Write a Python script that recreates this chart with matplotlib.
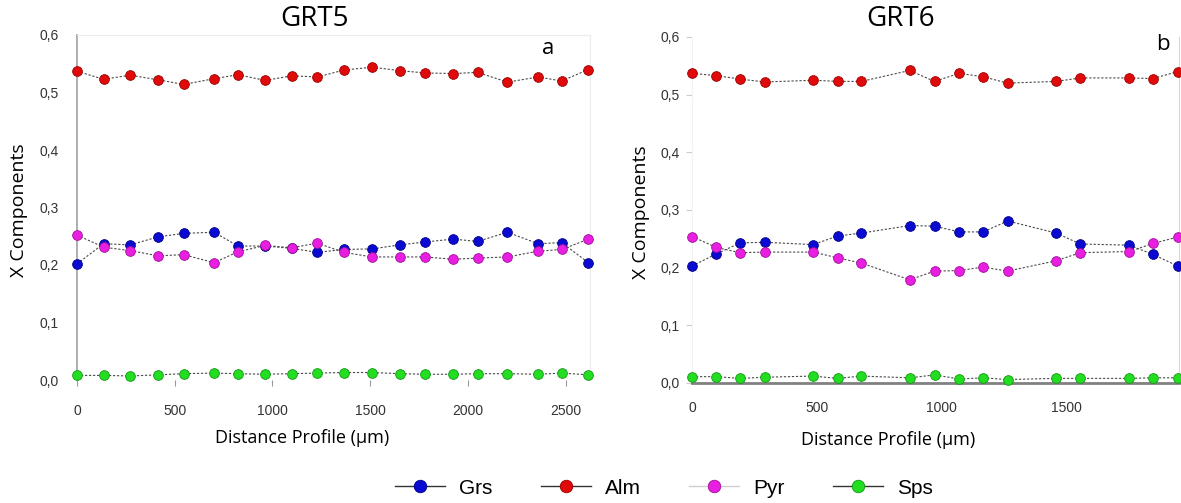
import matplotlib
matplotlib.use("Agg")
import matplotlib.pyplot as plt
from matplotlib.lines import Line2D
from matplotlib.ticker import FuncFormatter

# ---- GRT5 profile ----
grt5_x = [0, 136, 272, 416, 546, 701, 824, 962, 1098, 1230,
          1365, 1510, 1652, 1780, 1924, 2051, 2202, 2360, 2480, 2617]
grt5_grs = [0.202, 0.237, 0.235, 0.249, 0.255, 0.257, 0.233, 0.233, 0.229, 0.222,
            0.227, 0.228, 0.235, 0.240, 0.245, 0.241, 0.257, 0.237, 0.239, 0.204]
grt5_alm = [0.537, 0.523, 0.530, 0.522, 0.514, 0.524, 0.531, 0.521, 0.529, 0.527,
            0.539, 0.544, 0.538, 0.534, 0.533, 0.535, 0.518, 0.527, 0.520, 0.540]
grt5_pyr = [0.252, 0.231, 0.225, 0.216, 0.218, 0.204, 0.223, 0.234, 0.230, 0.238,
            0.222, 0.214, 0.214, 0.214, 0.210, 0.212, 0.214, 0.224, 0.227, 0.245]
grt5_sps = [0.008, 0.008, 0.007, 0.009, 0.011, 0.012, 0.011, 0.010, 0.011, 0.012,
            0.013, 0.013, 0.011, 0.010, 0.010, 0.011, 0.011, 0.010, 0.012, 0.009]

# ---- GRT6 profile ----
grt6_x = [0, 98, 193, 292, 485, 584, 678, 872, 971, 1070,
          1166, 1264, 1458, 1555, 1751, 1846, 1944]
grt6_grs = [0.203, 0.224, 0.243, 0.244, 0.240, 0.255, 0.260, 0.273, 0.272, 0.262,
            0.262, 0.281, 0.260, 0.241, 0.239, 0.223, 0.203]
grt6_alm = [0.537, 0.533, 0.527, 0.522, 0.525, 0.523, 0.523, 0.542, 0.523, 0.537,
            0.531, 0.520, 0.523, 0.529, 0.529, 0.528, 0.540]
grt6_pyr = [0.254, 0.235, 0.226, 0.227, 0.227, 0.217, 0.208, 0.179, 0.194, 0.195,
            0.201, 0.194, 0.212, 0.226, 0.228, 0.242, 0.253]
grt6_sps = [0.011, 0.011, 0.008, 0.010, 0.012, 0.008, 0.012, 0.009, 0.014, 0.007,
            0.009, 0.006, 0.008, 0.008, 0.008, 0.009, 0.009]

series_names = ["Grs", "Alm", "Pyr", "Sps"]
series_colors = ["#0a0ad2", "#e00a0a", "#e81ee0", "#22dd22"]
edge_colors = ["#00008a", "#9a0000", "#a0109a", "#119911"]

y_ticks = [0.0, 0.1, 0.2, 0.3, 0.4, 0.5, 0.6]

comma = FuncFormatter(lambda v, _: f"{v:.1f}".replace(".", ","))

fig = plt.figure(figsize=(11.81, 5.03), dpi=100)
fig.patch.set_facecolor("white")

W, H = 1181, 503
ax1 = fig.add_axes([77 / W, 1 - 380 / H, (590 - 77) / W, (380 - 35) / H])
ax2 = fig.add_axes([692 / W, 1 - 383 / H, (1179 - 692) / W, (383 - 37) / H])


def draw_profile(ax, x, cols):
    for vals, c, ec in zip(cols, series_colors, edge_colors):
        ax.plot(x, vals, linestyle=(0, (2, 1.6)), color="#4a4a4a", lw=0.8,
                zorder=2, clip_on=False)
        ax.plot(x, vals, linestyle="none", marker="o", ms=7, mfc=c, mec=ec,
                mew=0.6, zorder=3, clip_on=False)
    ax.set_ylim(0, 0.6)
    ax.set_yticks(y_ticks)
    ax.yaxis.set_major_formatter(comma)
    ax.tick_params(labelsize=10, labelcolor="#333333")
    for lab in ax.get_xticklabels() + ax.get_yticklabels():
        lab.set_family("Liberation Sans")


draw_profile(ax1, grt5_x, [grt5_grs, grt5_alm, grt5_pyr, grt5_sps])
draw_profile(ax2, grt6_x, [grt6_grs, grt6_alm, grt6_pyr, grt6_sps])

# left panel frame
ax1.set_xlim(0, 2625)
ax1.set_xticks([0, 500, 1000, 1500, 2000, 2500])
ax1.spines["left"].set_color("#a8a8a8")
ax1.spines["left"].set_linewidth(1.3)
ax1.spines["top"].set_color("#ececec")
ax1.spines["right"].set_color("#ececec")
ax1.spines["bottom"].set_visible(False)
ax1.tick_params(axis="y", length=0, pad=13)
ax1.tick_params(axis="x", length=4, color="#999999", pad=13)

# right panel frame
ax2.set_xlim(0, 1950)
ax2.set_xticks([0, 500, 1000, 1500])
ax2.spines["bottom"].set_color("#808080")
ax2.spines["bottom"].set_linewidth(2.0)
ax2.spines["right"].set_color("#d8d8d8")
ax2.spines["left"].set_color("#f2f2f2")
ax2.spines["top"].set_visible(False)
ax2.tick_params(axis="y", length=4, color="#cccccc", pad=5)
ax2.tick_params(axis="x", length=0, pad=13)

title_font = dict(family="Open Sans", fontsize=20, color="black")
fig.text(315 / W, 1 - 19 / H, "GRT5", ha="center", va="center", **title_font)
fig.text(901 / W, 1 - 19 / H, "GRT6", ha="center", va="center", **title_font)

label_font = dict(family="Open Sans", fontsize=13, color="black")
fig.text(19 / W, 1 - 210 / H, "X Components", rotation=90, ha="center",
         va="center", fontsize=14, family="Open Sans")
fig.text(641 / W, 1 - 212 / H, "X Components", rotation=90, ha="center",
         va="center", fontsize=14, family="Open Sans")
fig.text(302 / W, 1 - 438 / H, "Distance Profile (µm)", ha="center",
         va="center", **label_font)
fig.text(888 / W, 1 - 440 / H, "Distance Profile (µm)", ha="center",
         va="center", **label_font)

fig.text(548 / W, 1 - 48 / H, "a", ha="center", va="center",
         family="Open Sans", fontsize=16)
fig.text(1163 / W, 1 - 45 / H, "b", ha="center", va="center",
         family="Open Sans", fontsize=16)

handles = []
line_cols = ["#333333", "#333333", "#d0d0d0", "#333333"]
for c, ec, lc in zip(series_colors, edge_colors, line_cols):
    handles.append(Line2D([0], [0], color=lc, lw=1.0, marker="o", ms=9,
                          mfc=c, mec=ec, mew=0.6))
fig.legend(handles, series_names, loc="center", ncol=4,
           bbox_to_anchor=(664 / W, 1 - 488 / H), frameon=False,
           handlelength=2.4, columnspacing=2.3, handletextpad=0.7,
           prop={"family": "Liberation Sans", "size": 15})

fig.savefig("out.png", dpi=100, facecolor="white")
